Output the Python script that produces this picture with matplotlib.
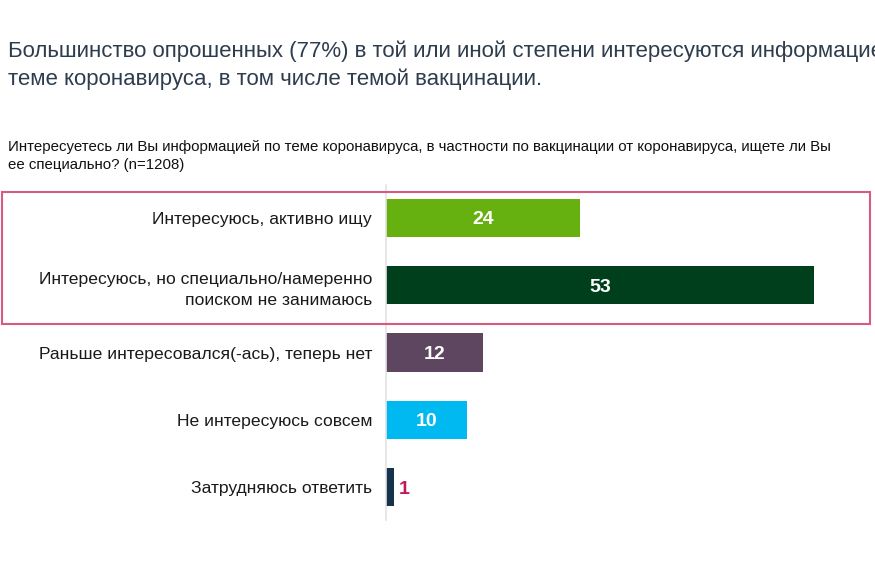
import matplotlib
matplotlib.use('Agg')
import matplotlib.pyplot as plt
from matplotlib.patches import Rectangle

TITLE = ('Большинство опрошенных (77%) в той или иной степени интересуются информацией по\n'
         'теме коронавируса, в том числе темой вакцинации.')
QUESTION = ('Интересуетесь ли Вы информацией по теме коронавируса, в частности по вакцинации от коронавируса, ищете ли Вы\n'
            'ее специально? (n=1208)')

categories = [
    'Интересуюсь, активно ищу',
    'Интересуюсь, но специально/намеренно\nпоиском не занимаюсь',
    'Раньше интересовался(-ась), теперь нет',
    'Не интересуюсь совсем',
    'Затрудняюсь ответить',
]
values = [24, 53, 12, 10, 1]
colors = ['#66B110', '#003F1C', '#5E4560', '#00B9F1', '#16334E']

plt.rcParams['font.family'] = ['Liberation Sans', 'DejaVu Sans']

fig = plt.figure(figsize=(8.75, 5.87), dpi=100)
ax = fig.add_axes([386 / 875, 1 - 520 / 587, 485 / 875, 335 / 587])

y = list(range(len(values)))
ax.barh(y, values, height=0.565, color=colors)
ax.set_xlim(0, 60)
ax.set_ylim(4.49, -0.49)

for i, v in enumerate(values):
    if v >= 5:
        ax.text(v / 2, i, str(v), ha='center', va='center_baseline', color='white',
                fontsize=14, fontweight='bold')
    else:
        ax.text(v + 0.55, i, str(v), ha='left', va='center_baseline', color='#C2185B',
                fontsize=14, fontweight='bold')

ax.set_yticks(y)
ax.set_yticklabels(categories, fontsize=12.6, color='#1a1a1a', linespacing=1.5)
ax.tick_params(axis='y', length=0, pad=10)
ax.set_xticks([])
for side in ['top', 'right', 'bottom']:
    ax.spines[side].set_visible(False)
ax.spines['left'].set_color('#E3E3E3')
ax.spines['left'].set_linewidth(1.2)

# highlight box around the first two rows
fig.patches.append(Rectangle((2 / 875, 1 - 324 / 587), 868 / 875, 132 / 587,
                             transform=fig.transFigure, fill=False,
                             edgecolor='#D65A82', linewidth=1.5))

fig.text(8 / 875, 1 - 40 / 587, TITLE, ha='left', va='top', fontsize=16,
         color='#2E3D4E', linespacing=1.4)
fig.text(8 / 875, 1 - 140 / 587, QUESTION, ha='left', va='top', fontsize=10.8,
         color='#111111', linespacing=1.4)

fig.savefig('out.png', dpi=100, facecolor='white')
